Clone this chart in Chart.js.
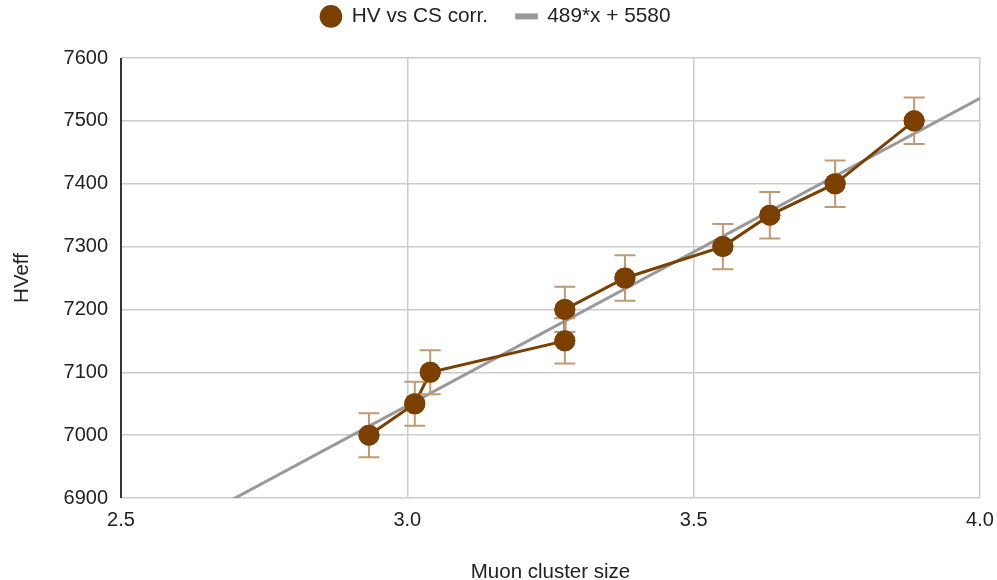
<!DOCTYPE html>
<html>
<head>
<meta charset="utf-8">
<script src="https://cdn.jsdelivr.net/npm/chart.js@4/dist/chart.umd.min.js"></script>
<style>
html,body{margin:0;padding:0;background:#fff;}
#wrap{width:997px;height:580px;position:relative;}
</style>
</head>
<body>
<div id="wrap"><canvas id="c" width="997" height="580"></canvas></div>
<script>
// Data
const clusterSize = [2.933, 3.013, 3.040, 3.275, 3.275, 3.380, 3.551, 3.633, 3.747, 3.885];
const hvEff = [7000, 7050, 7100, 7150, 7200, 7250, 7300, 7350, 7400, 7500];
const hvErr = [35, 35, 35, 36, 36, 36, 36, 37, 37, 37];
const fitX = [2.5, 4.0];
const fitSlope = 489;
const fitIntercept = 5580;
const xTicks = [2.5, 3.0, 3.5, 4.0];
const yTicks = [6900, 7000, 7100, 7200, 7300, 7400, 7500, 7600];
const seriesNames = ['HV vs CS corr.', '489*x + 5580'];

const mainPts = clusterSize.map((x, i) => ({x: x, y: hvEff[i]}));
const fitPts = fitX.map(x => ({x: x, y: fitSlope * x + fitIntercept}));

const BROWN = '#7b3f00';
const ERRC = '#bf9a74';
const FITC = '#999999';
const TXT = '#222222';
const LEGEND_PAD = 28;

const errorBars = {
  id: 'errorBars',
  afterDatasetsDraw(chart) {
    const ctx = chart.ctx;
    const xs = chart.scales.x, ys = chart.scales.y;
    ctx.save();
    ctx.strokeStyle = ERRC;
    ctx.lineWidth = 2;
    mainPts.forEach((p, i) => {
      const px = xs.getPixelForValue(p.x);
      const top = ys.getPixelForValue(p.y + hvErr[i]);
      const bot = ys.getPixelForValue(p.y - hvErr[i]);
      ctx.beginPath();
      ctx.moveTo(px, top); ctx.lineTo(px, bot);
      ctx.moveTo(px - 10.5, top); ctx.lineTo(px + 10.5, top);
      ctx.moveTo(px - 10.5, bot); ctx.lineTo(px + 10.5, bot);
      ctx.stroke();
    });
    ctx.restore();
    const meta = chart.getDatasetMeta(1);
    ctx.save();
    ctx.fillStyle = BROWN;
    meta.data.forEach(el => {
      ctx.beginPath();
      ctx.arc(el.x, el.y, 10.5, 0, Math.PI * 2);
      ctx.fill();
    });
    ctx.restore();
  }
};

const leftAxisLine = {
  id: 'leftAxisLine',
  afterDraw(chart) {
    const ca = chart.chartArea, ctx = chart.ctx;
    ctx.save();
    ctx.strokeStyle = '#000';
    ctx.lineWidth = 1.5;
    ctx.beginPath();
    ctx.moveTo(ca.left, ca.top);
    ctx.lineTo(ca.left, ca.bottom);
    ctx.stroke();
    ctx.restore();
  }
};

// keep the legend compact and place it near the top edge
const legendPlace = {
  id: 'legendPlace',
  beforeLayout(chart) {
    const lg = chart.legend;
    if (lg && !lg._patched) {
      const f = lg.fit;
      lg.fit = function () { f.call(this); this.height = 30; };
      lg._patched = true;
    }
  },
  afterLayout(chart) {
    const lg = chart.legend;
    if (!lg) return;
    lg.top = 15 - 37;
    lg.height = 80;
    lg.bottom = lg.top + lg.height;
    lg.left -= 8;
    lg.right -= 8;
  }
};

Chart.defaults.font.family = '"Liberation Sans", Arial, sans-serif';
Chart.defaults.color = TXT;

new Chart(document.getElementById('c'), {
  type: 'scatter',
  data: {
    datasets: [
      {
        label: seriesNames[1],
        data: fitPts,
        showLine: true,
        borderColor: FITC,
        backgroundColor: FITC,
        borderWidth: 3,
        pointRadius: 0,
        order: 2
      },
      {
        label: seriesNames[0],
        data: mainPts,
        showLine: true,
        borderColor: BROWN,
        backgroundColor: BROWN,
        borderWidth: 3,
        pointRadius: 10.5,
        pointHoverRadius: 10.5,
        pointBorderWidth: 0,
        pointStyle: 'circle',
        order: 1
      }
    ]
  },
  options: {
    responsive: false,
    animation: false,
    devicePixelRatio: 1,
    layout: {padding: {top: 0, right: 0, left: 10, bottom: 0}},
    plugins: {
      tooltip: {enabled: false},
      legend: {
        position: 'top',
        labels: {
          usePointStyle: true,
          boxHeight: 16,
          padding: LEGEND_PAD,
          font: {size: 20.8},
          color: TXT,
          generateLabels(chart) {
            return [
              {text: seriesNames[0], fillStyle: BROWN, strokeStyle: BROWN, lineWidth: 0, pointStyle: 'circle', datasetIndex: 1, hidden: false, fontColor: TXT},
              {text: seriesNames[1], fillStyle: FITC, strokeStyle: FITC, lineWidth: 6, pointStyle: 'line', datasetIndex: 0, hidden: false, fontColor: TXT}
            ];
          }
        }
      }
    },
    scales: {
      x: {
        type: 'linear',
        min: 2.5, max: 4.0,
        afterBuildTicks(scale) { scale.ticks = xTicks.map(v => ({value: v})); },
        afterFit(scale) { scale.height = 82; scale.paddingRight = 17; scale.paddingLeft = 0; },
        ticks: {font: {size: 20}, color: TXT, padding: 10, maxRotation: 0,
          callback: v => v.toFixed(1)},
        grid: {color: '#cccccc', lineWidth: 1.5, drawTicks: false},
        border: {display: false},
        title: {display: true, text: 'Muon cluster size', font: {size: 20.5}, color: TXT, padding: {top: 0, bottom: -5}}
      },
      y: {
        type: 'linear',
        min: 6900, max: 7600,
        afterBuildTicks(scale) { scale.ticks = yTicks.map(v => ({value: v})); },
        afterFit(scale) { scale.width = 111; scale.paddingTop = 58; scale.paddingBottom = 0; },
        ticks: {font: {size: 20}, color: TXT, padding: 13,
          callback: v => String(v)},
        grid: {color: '#cccccc', lineWidth: 1.5, drawTicks: false},
        border: {display: false},
        title: {display: true, text: 'HVeff', font: {size: 20.5}, color: TXT, padding: {top: 0, bottom: 0}}
      }
    }
  },
  plugins: [errorBars, leftAxisLine, legendPlace]
});
</script>
</body>
</html>
